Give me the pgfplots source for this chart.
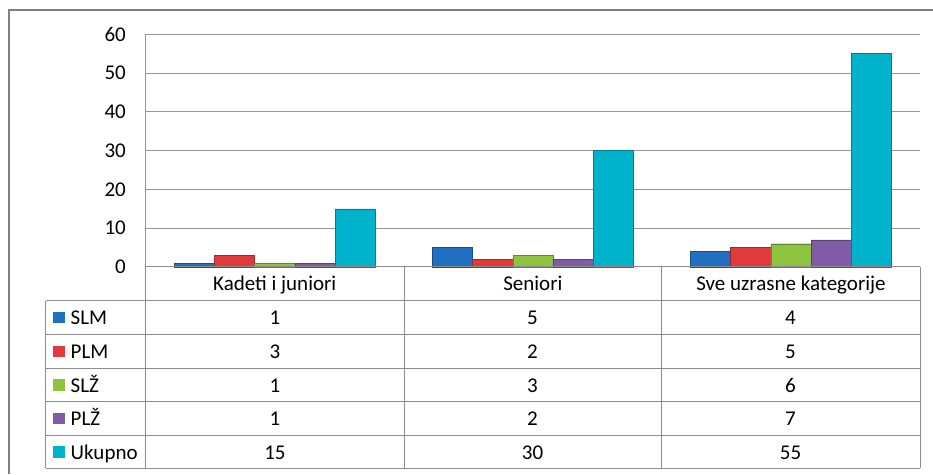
\documentclass[border=0pt]{standalone}
\usepackage{pgfplots}
\pgfplotsset{compat=1.18}
\usepackage{fontspec}
\setmainfont{Carlito}
\definecolor{cSLM}{RGB}{31,112,192}
\definecolor{cPLM}{RGB}{224,58,60}
\definecolor{cSLZ}{RGB}{140,196,64}
\definecolor{cPLZ}{RGB}{128,92,168}
\definecolor{cUK}{RGB}{0,178,204}
\definecolor{gridc}{RGB}{150,150,150}
\definecolor{tabc}{RGB}{140,140,140}
\begin{document}
\begin{tikzpicture}[font=\fontsize{21}{25}\selectfont]
\useasboundingbox (0pt,0pt) rectangle (933pt,474pt);
\begin{axis}[
  at={(145.7pt,207pt)}, anchor=south west,
  scale only axis, width=774.3pt, height=232.7pt,
  xmin=-0.5, xmax=2.5, ymin=0, ymax=60,
  ytick={0,10,20,30,40,50,60},
  xtick={0,1,2},
  xticklabels={Kadeti i juniori, Seniori, Sve uzrasne kategorije},
  xticklabel style={anchor=base, yshift=-23.7pt, inner sep=0pt},
  yticklabel style={anchor=east, inner sep=0pt, xshift=-19.7pt},
  /pgf/number format/assume math mode=true,
  major tick length=0pt,
  axis x line*=bottom, axis y line*=left,
  axis line style={draw=gridc, line width=1pt, -},
  ymajorgrids, grid style={draw=gridc, line width=1pt},
  ybar=0pt, bar width=40.2pt,
  clip=false,
]
\addplot[fill=cSLM, draw=cSLM!70!black] coordinates {(0,1) (1,5) (2,4)};
\addplot[fill=cPLM, draw=cPLM!70!black] coordinates {(0,3) (1,2) (2,5)};
\addplot[fill=cSLZ, draw=cSLZ!70!black] coordinates {(0,1) (1,3) (2,6)};
\addplot[fill=cPLZ, draw=cPLZ!70!black] coordinates {(0,1) (1,2) (2,7)};
\addplot[fill=cUK, draw=cUK!70!black] coordinates {(0,15) (1,30) (2,55)};
\end{axis}
% outer chart border
\draw[draw=black!50, line width=2pt] (9pt,0pt) -- (9pt,464pt) -- (940pt,464pt);
% data table
\begin{scope}[draw=tabc, line width=1pt]
\draw (145.7pt,207pt) -- (145.7pt,6pt);
\draw (404pt,207pt) -- (404pt,6pt);
\draw (661pt,207pt) -- (661pt,6pt);
\draw (920pt,207pt) -- (920pt,6pt);
\draw (45.7pt,173.5pt) -- (45.7pt,6pt);
\draw (145.7pt,207pt) -- (920pt,207pt);
\foreach \yy in {173.5,139.5,106,72.3,38.7,6}{
  \draw (45.7pt,\yy pt) -- (920pt,\yy pt);
}
\end{scope}
% legend keys
\fill[cSLM] (53pt,162.5pt) rectangle (64.5pt,151pt);
\fill[cPLM] (53pt,128.5pt) rectangle (64.5pt,117pt);
\fill[cSLZ] (53pt,95pt) rectangle (64.5pt,83.5pt);
\fill[cPLZ] (53pt,61.3pt) rectangle (64.5pt,49.8pt);
\fill[cUK] (53pt,27.7pt) rectangle (64.5pt,16.2pt);
\begin{scope}[every node/.style={inner sep=0pt}]
\node[anchor=base west] at (70.5pt,149.5pt) {SLM};
\node[anchor=base west] at (70.5pt,115.5pt) {PLM};
\node[anchor=base west] at (70.5pt,82pt) {SLŽ};
\node[anchor=base west] at (70.5pt,48.3pt) {PLŽ};
\node[anchor=base west] at (70.5pt,14.7pt) {Ukupno};
% values
\node[anchor=base] at (274.9pt,149.5pt) {1};
\node[anchor=base] at (532.5pt,149.5pt) {5};
\node[anchor=base] at (790.5pt,149.5pt) {4};
\node[anchor=base] at (274.9pt,115.5pt) {3};
\node[anchor=base] at (532.5pt,115.5pt) {2};
\node[anchor=base] at (790.5pt,115.5pt) {5};
\node[anchor=base] at (274.9pt,82pt) {1};
\node[anchor=base] at (532.5pt,82pt) {3};
\node[anchor=base] at (790.5pt,82pt) {6};
\node[anchor=base] at (274.9pt,48.3pt) {1};
\node[anchor=base] at (532.5pt,48.3pt) {2};
\node[anchor=base] at (790.5pt,48.3pt) {7};
\node[anchor=base] at (274.9pt,14.7pt) {15};
\node[anchor=base] at (532.5pt,14.7pt) {30};
\node[anchor=base] at (790.5pt,14.7pt) {55};
\end{scope}
\end{tikzpicture}
\end{document}
